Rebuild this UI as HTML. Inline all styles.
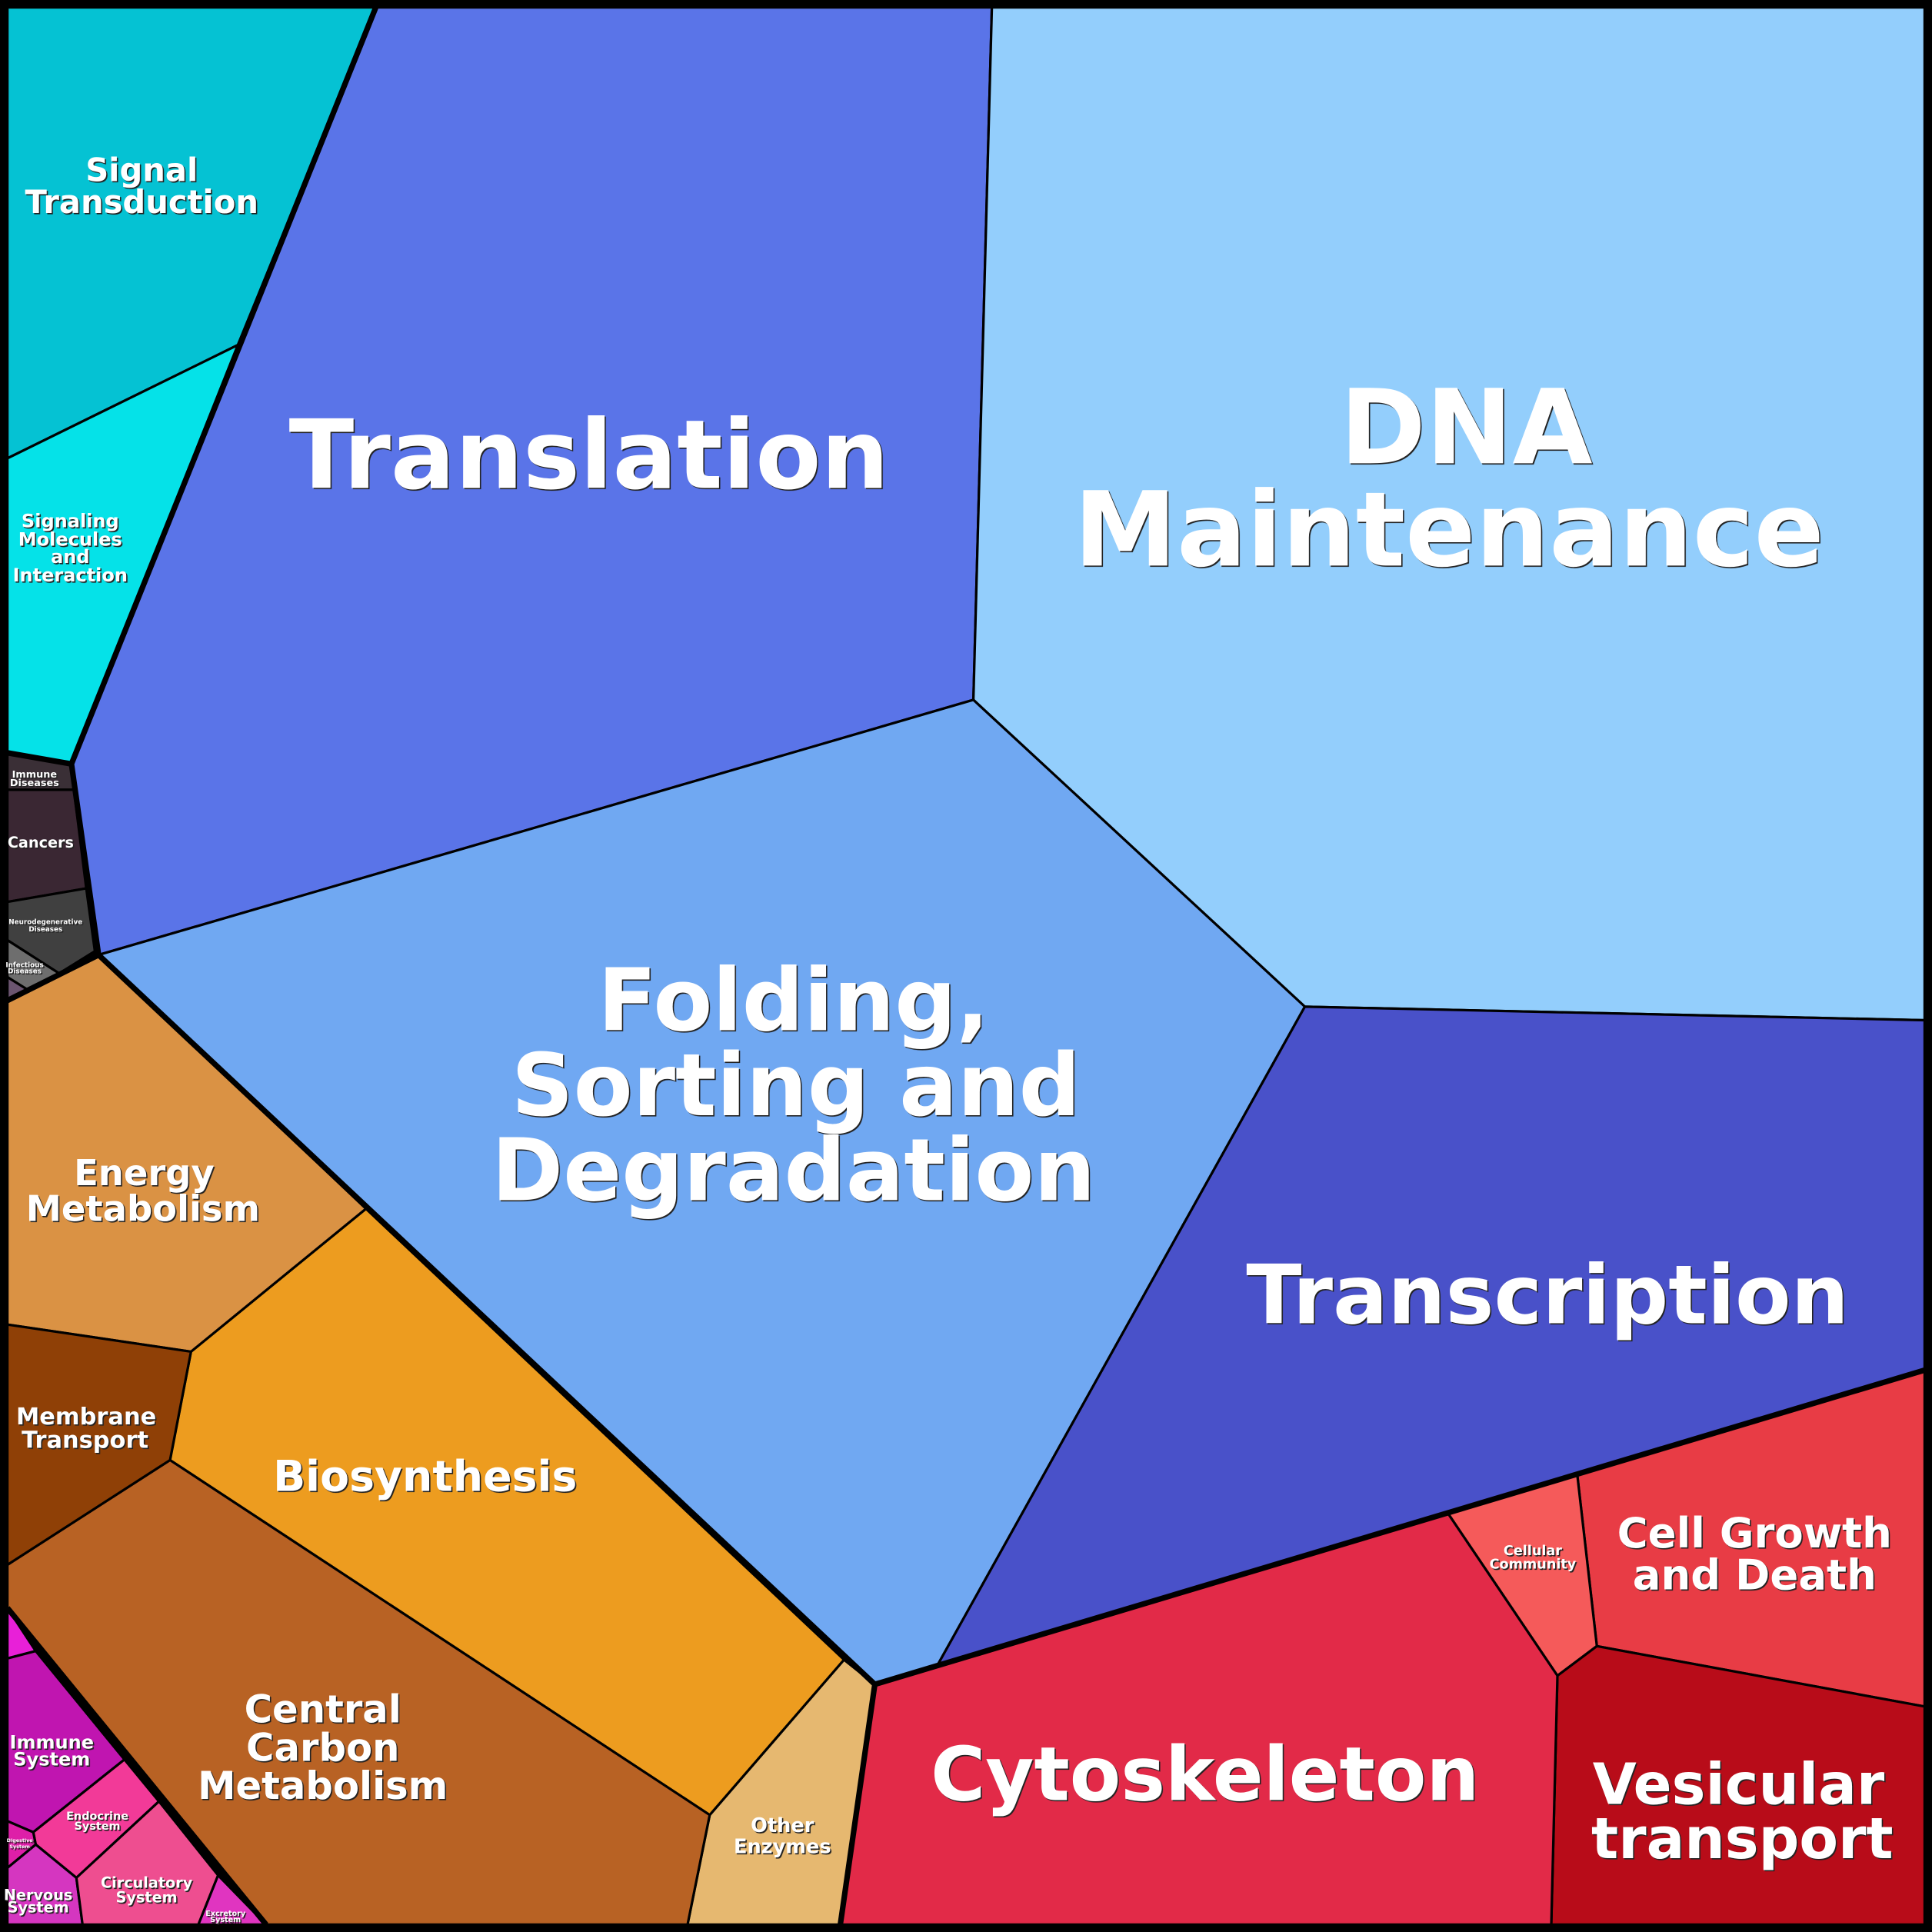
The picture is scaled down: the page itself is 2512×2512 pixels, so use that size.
<!DOCTYPE html>
<html><head><meta charset="utf-8"><style>
html,body{margin:0;padding:0;background:#000}
svg{display:block}
text{font-family:"DejaVu Sans","Liberation Sans",sans-serif;font-weight:bold;fill:#fff;text-anchor:middle;filter:drop-shadow(1px 1px 0 #222)}
</style></head><body>
<svg width="2512" height="2512" viewBox="0 0 1568 1568" xmlns="http://www.w3.org/2000/svg">
<g stroke="#000" stroke-width="2" stroke-linejoin="round">
<polygon fill="#05c2d3" points="6,6 305,6 193,280 6,372"/>
<polygon fill="#05e2e8" points="6,372 193,280 58,620 6,611"/>
<polygon fill="#5a74e8" points="305,6 805,6 790,568 80,775 58,620"/>
<polygon fill="#93cefc" points="805,6 1562,6 1562,828 1059,817 790,568"/>
<polygon fill="#70a8f2" points="790,568 1059,817 760,1353 710,1367 685,1347 297,981 80,775"/>
<polygon fill="#4951c9" points="1059,817 1562,828 1562,1112 1280,1196 1175,1228 760,1353"/>
<polygon fill="#e83c45" points="1562,1112 1562,1385 1296,1336 1280,1196"/>
<polygon fill="#f55a5a" points="1175,1228 1280,1196 1296,1336 1264,1360"/>
<polygon fill="#b80c19" points="1264,1360 1296,1336 1562,1385 1562,1562 1259,1562"/>
<polygon fill="#e22a48" points="710,1367 1175,1228 1264,1360 1259,1562 682,1562"/>
<polygon fill="#e6b870" points="685,1347 710,1367 682,1562 558,1562 576,1473"/>
<polygon fill="#ed9c1f" points="297,981 685,1347 576,1473 138,1185 155,1097"/>
<polygon fill="#b86224" points="6,1270 138,1185 576,1473 558,1562 216,1562 6,1305"/>
<polygon fill="#da9244" points="6,812 80,775 297,981 155,1097 6,1075"/>
<polygon fill="#8f4006" points="6,1075 155,1097 138,1185 6,1270"/>
<polygon fill="#3a2f36" points="6,611 58,620 60,641 6,641"/>
<polygon fill="#3a2733" points="6,641 60,641 70,721 6,732"/>
<polygon fill="#404040" points="6,732 70,721 77,772 48,790 6,763"/>
<polygon fill="#6e6e6e" points="6,763 48,790 22,803 6,793"/>
<polygon fill="#6b5570" points="6,793 22,803 6,811"/>
<polygon fill="#e820d8" points="6,1305 29,1340 6,1346"/>
<polygon fill="#c015b0" points="6,1346 29,1340 101,1428 27,1487 6,1478"/>
<polygon fill="#f23a98" points="101,1428 129,1462 62,1524 29,1497 27,1487"/>
<polygon fill="#de1fa8" points="6,1478 27,1487 29,1497 6,1516"/>
<polygon fill="#d536c0" points="6,1516 29,1497 62,1524 67,1562 6,1562"/>
<polygon fill="#ee4e90" points="62,1524 129,1462 177,1522 161,1562 67,1562"/>
<polygon fill="#e035c0" points="177,1522 216,1562 161,1562"/>
</g>
<g stroke="#000" stroke-width="4.5" fill="none" stroke-linejoin="round">
<polyline points="305,6 58,620 80,775 6,812"/>
<polyline points="58,620 6,611"/>
<polyline points="80,775 710,1367 682,1562"/>
<polyline points="710,1367 1562,1112"/>
<polyline points="6,1305 216,1562"/>
</g>
<rect x="3" y="3" width="1562" height="1562" fill="none" stroke="#000" stroke-width="7"/>
<text font-size="26" x="115" y="147">Signal</text>
<text font-size="26" x="115" y="173">Transduction</text>
<g font-size="15"><text x="57" y="428">Signaling</text><text x="57" y="443">Molecules</text><text x="57" y="457">and</text><text x="57" y="472">Interaction</text></g>
<text font-size="77.5" x="478" y="396">Translation</text>
<text font-size="84" x="1190" y="376">DNA</text>
<text font-size="84" x="1176" y="459">Maintenance</text>
<g font-size="70"><text x="644" y="836">Folding,</text><text x="646" y="905">Sorting and</text><text x="644" y="974">Degradation</text></g>
<text font-size="66" x="1256" y="1074">Transcription</text>
<text font-size="60.5" x="978" y="1461">Cytoskeleton</text>
<text font-size="46" x="1411" y="1464">Vesicular</text>
<text font-size="46" x="1414" y="1508">transport</text>
<text font-size="34" x="1424" y="1256">Cell Growth</text>
<text font-size="34" x="1424" y="1290">and Death</text>
<text font-size="11" x="1244" y="1262">Cellular</text>
<text font-size="11" x="1244" y="1273">Community</text>
<text font-size="34.5" x="345" y="1210">Biosynthesis</text>
<g font-size="31"><text x="262" y="1398">Central</text><text x="262" y="1429">Carbon</text><text x="262" y="1460">Metabolism</text></g>
<text font-size="29" x="117" y="962">Energy</text>
<text font-size="29" x="116" y="991">Metabolism</text>
<text font-size="19" x="70" y="1156">Membrane</text>
<text font-size="19" x="69" y="1175">Transport</text>
<text font-size="16" x="635" y="1487">Other</text>
<text font-size="16" x="635" y="1504">Enzymes</text>
<text font-size="8" x="28" y="631">Immune</text>
<text font-size="8" x="28" y="638">Diseases</text>
<text font-size="12" x="33" y="688">Cancers</text>
<text font-size="5.5" x="37" y="750">Neurodegenerative</text>
<text font-size="5.5" x="37" y="756">Diseases</text>
<text font-size="5.5" x="20" y="785">Infectious</text>
<text font-size="5.5" x="20" y="790">Diseases</text>
<text font-size="15" x="42" y="1419">Immune</text>
<text font-size="15" x="42" y="1433">System</text>
<text font-size="9" x="79" y="1477">Endocrine</text>
<text font-size="9" x="79" y="1485">System</text>
<text font-size="12" x="31" y="1542">Nervous</text>
<text font-size="12" x="31" y="1552">System</text>
<text font-size="12" x="119" y="1532">Circulatory</text>
<text font-size="12" x="119" y="1544">System</text>
<text font-size="6" x="183" y="1555">Excretory</text>
<text font-size="6" x="183" y="1560">System</text>
<text font-size="4" x="16" y="1495">Digestive</text>
<text font-size="4" x="16" y="1500">System</text>
</svg>
</body></html>
